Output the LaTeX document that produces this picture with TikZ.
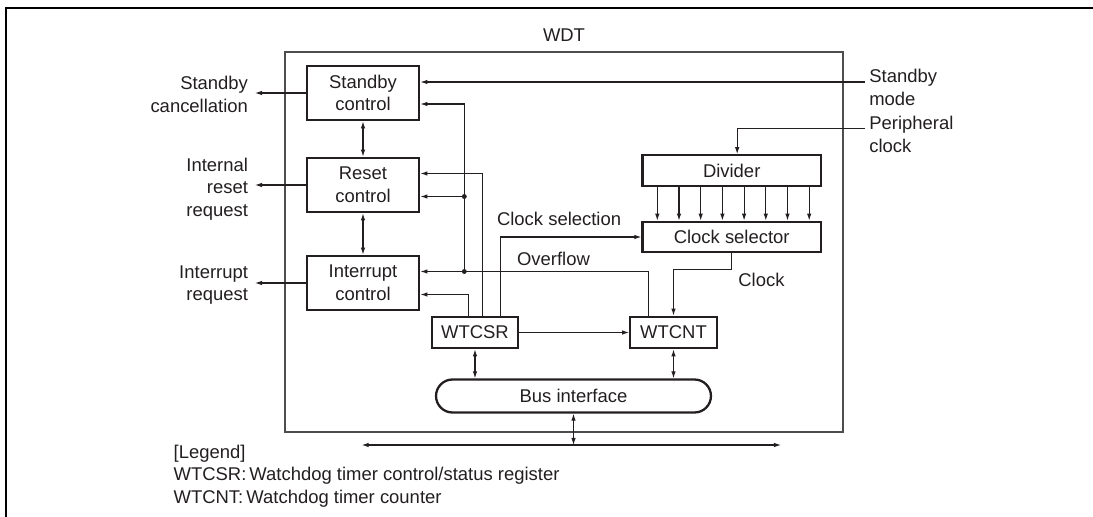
\documentclass[tikz,border=0pt]{standalone}
\usepackage{fontspec}
\setmainfont{Liberation Sans}
\usetikzlibrary{arrows.meta, positioning, calc}
\definecolor{ink}{HTML}{231F20}
\definecolor{wdtline}{HTML}{4D4D4F}
\newcommand{\dgfont}{\fontsize{10.5}{12.9}\selectfont}

\begin{document}
\begin{tikzpicture}[
    x=0.02cm, y=-0.02cm,
    every node/.style={font=\dgfont, text=ink},
    ctlblk/.style={draw=ink, line width=1.3pt, minimum width=2.25cm,
                   minimum height=1.09cm, inner sep=0pt, align=center},
    regblk/.style={draw=ink, line width=1.3pt, minimum width=1.73cm,
                   minimum height=0.63cm, inner sep=0pt},
    clkblk/.style={draw=ink, line width=1.3pt, minimum width=3.57cm,
                   minimum height=0.61cm, inner sep=0pt},
    busblk/.style={draw=ink, line width=1.3pt, minimum width=5.5cm,
                   minimum height=0.66cm, rounded corners=0.33cm, inner sep=0pt},
    lbl/.style={inner sep=0pt},
    conn/.style={draw=ink, line width=0.6pt, -{Latex[length=4pt,width=2.6pt]}},
    dconn/.style={draw=ink, line width=0.6pt,
                  {Latex[length=4pt,width=2.6pt]}-{Latex[length=4pt,width=2.6pt]}},
    wdtframe/.style={draw=wdtline, line width=0.7pt},
    page/.style={draw=black, line width=1.1pt},
]
\useasboundingbox (0,0) rectangle (1093,517);

% ---------------------------------------------------------------- page and module
\draw[page] (6,517) -- (6,8) -- (1093,8);
\draw[wdtframe] (285,52) rectangle (843,432);
\node[lbl, anchor=north] (wdt) at (564,28) {WDT};

% ---------------------------------------------------------------- blocks
\node[ctlblk] (stbctl) at (363,93) {Standby\\control};
\node[ctlblk] (rstctl) at (363,185) {Reset\\control};
\node[ctlblk] (intctl) at (363,283) {Interrupt\\control};
\node[regblk] (wtcsr) at (475,332.5) {WTCSR};
\node[regblk] (wtcnt) at (673.5,332.5) {WTCNT};
\node[clkblk] (divider) at (731.7,170.5) {Divider};
\node[clkblk] (clksel) at (731.7,237) {Clock selector};
\node[busblk] (busif) at (573.5,396) {Bus interface};

% ---------------------------------------------------------------- outside signals
\node[lbl, anchor=north east, align=right] (sbctxt) at (248.3,76) {Standby\\cancellation};
\node[lbl, anchor=north east, align=right] (irrtxt) at (248.3,157.3) {Internal\\reset\\request};
\node[lbl, anchor=north east, align=right] (intrtxt) at (248.3,265) {Interrupt\\request};
\node[lbl, anchor=north west, align=left] (sbmtxt) at (869,69) {Standby\\mode};
\node[lbl, anchor=north west, align=left] (pclktxt) at (869,115.7) {Peripheral\\clock};

\coordinate (outx) at (255,0);
\draw[conn] (stbctl.west) -- (stbctl.west -| outx);
\draw[conn] (rstctl.west) -- (rstctl.west -| outx);
\draw[conn] (intctl.west) -- (intctl.west -| outx);

\coordinate (sbmode) at (865,82);
\coordinate (pclk) at (865,128.3);
\draw[conn] (sbmode) -- (sbmode -| stbctl.east);
\draw[conn] (pclk) -| ([xshift=0.11cm]divider.north);

% ---------------------------------------------------------------- control chain
\draw[dconn] (stbctl.south) -- (rstctl.north);
\draw[dconn] (rstctl.south) -- (intctl.north);

% ---------------------------------------------------------------- clock path
\foreach \k in {0,...,7} {
    \pgfmathsetmacro{\dx}{(-74.4+21.7*\k)*0.02}
    \draw[conn] ([xshift=\dx cm]divider.south) -- ([xshift=\dx cm]clksel.north);
}
\draw[conn] ([xshift=0.514cm]wtcsr.north) |- (clksel.west);
\draw[conn] (clksel.south) -- ++(0,16.5) -| (wtcnt.north);
\draw[conn] (wtcsr.east) -- (wtcnt.west);

\node[lbl, anchor=north west] (clkseltxt) at (496.7,212) {Clock selection};
\node[lbl, anchor=north west] (ovftxt) at (516.7,251.7) {Overflow};
\node[lbl, anchor=north west] (clktxt) at (738,272.7) {Clock};

% ---------------------------------------------------------------- WTCSR / overflow
\draw[conn] ([xshift=0.146cm]wtcsr.north) |- ([yshift=0.23cm]rstctl.east);
\draw[conn] ([xshift=-0.134cm]wtcsr.north) |- ([yshift=-0.23cm]intctl.east);
\draw[conn] ([xshift=-0.504cm]wtcnt.north) |- ([yshift=0.23cm]intctl.east);

\coordinate (ovfa) at (464.3,271.5);
\coordinate (ovfb) at (464.3,196.5);
\draw[conn] (ovfa) |- ([yshift=-0.22cm]stbctl.east);
\draw[conn] (ovfb) -- (ovfb -| rstctl.east);
\fill[ink] (ovfa) circle (1.4pt);
\fill[ink] (ovfb) circle (1.4pt);

% ---------------------------------------------------------------- bus
\draw[dconn] (wtcsr.south) -- (wtcsr.south |- busif.north);
\draw[dconn] (wtcnt.south) -- (wtcnt.south |- busif.north);
\coordinate (busl) at (361.7,445);
\coordinate (busr) at (781,445);
\draw[dconn] (busl) -- (busr);
\draw[dconn] (busif.south) -- (busif.south |- busl);

% ---------------------------------------------------------------- legend
\node[lbl, anchor=north west, align=left] (legend) at (173.3,444.3)
    {[Legend]\\WTCSR:\,Watchdog timer control/status register\\WTCNT:\,Watchdog timer counter};

\end{tikzpicture}
\end{document}
